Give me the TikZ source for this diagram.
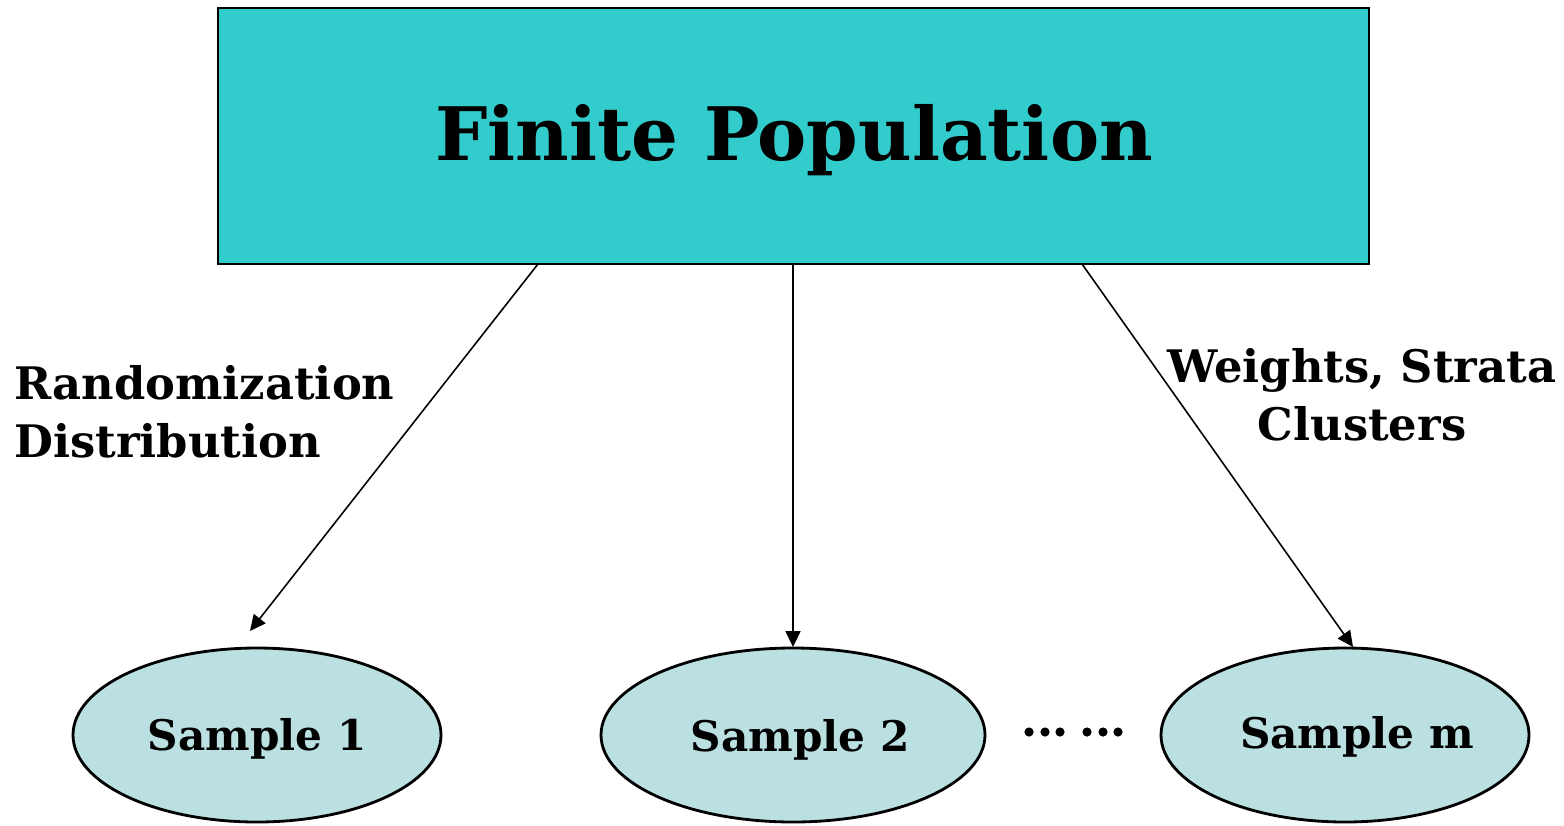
\documentclass[tikz,border=0pt]{standalone}
\usepackage{fontspec}
\setmainfont{DejaVu Serif}
\usetikzlibrary{arrows.meta}
\definecolor{popfill}{HTML}{33CCCC}
\definecolor{sampfill}{HTML}{BAE0E2}
\tikzset{
  popbox/.style={draw=black, line width=1.2pt, fill=popfill},
  sampell/.style={line width=1.6pt, fill=sampfill},
  link/.style={draw=black, line width=0.9pt, -{Triangle[length=9pt,width=8.5pt]}},
  lbl/.style={font=\bfseries\fontsize{25.5}{33}\selectfont, align=left, inner sep=0pt},
  samptxt/.style={font=\bfseries\fontsize{24}{30}\selectfont, inner sep=0pt},
}
\begin{document}
\begin{tikzpicture}[x=0.02cm, y=-0.02cm]
\useasboundingbox (0,0) rectangle (1564,825);
% population box
\draw[popbox] (218,8) rectangle (1369,264);
\node[inner sep=0pt] (pop) at (794,140) {\bfseries\fontsize{42}{50}\selectfont Finite Population};
\coordinate (popL) at (538,264);
\coordinate (popM) at (793,264);
\coordinate (popR) at (1082,264);
% samples
\draw[sampell] (257,735) ellipse (184 and 87);
\draw[sampell] (793,735) ellipse (192 and 87);
\draw[sampell] (1345,735) ellipse (184 and 87);
\node[samptxt] (s1) at (257,739) {Sample 1};
\node[samptxt] (s2) at (800,740) {Sample 2};
\node[samptxt] (sm) at (1357,737) {Sample m};
\coordinate (t1) at (250,631);
\coordinate (t2) at (793,647);
\coordinate (tm) at (1353,647);
% ellipsis dots between the second and last sample
\foreach \dx in {1029,1045,1060,1087,1103,1118}
  \fill (\dx,732) circle (4.6);
% connectors
\draw[link] (popL) -- (t1);
\draw[link] (popM) -- (t2);
\draw[link] (popR) -- (tm);
% labels
\node[lbl, anchor=north west] (rand) at (14,365) {Randomization\\Distribution};
\node[lbl, align=center, anchor=north] (wsc) at (1362,348) {Weights, Strata\\Clusters};
\end{tikzpicture}
\end{document}
